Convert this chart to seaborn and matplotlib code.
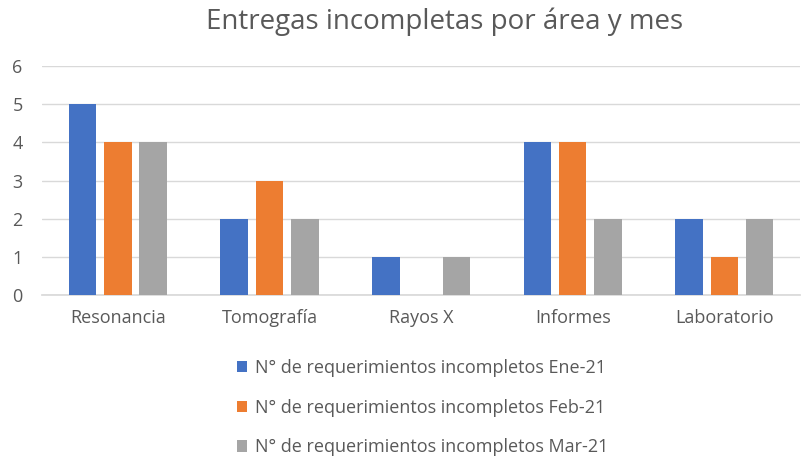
import pandas as pd
import matplotlib.pyplot as plt
import seaborn as sns

# Data
areas = ['Resonancia', 'Tomografía', 'Rayos X', 'Informes', 'Laboratorio']
series = ['N° de requerimientos incompletos Ene-21',
          'N° de requerimientos incompletos Feb-21',
          'N° de requerimientos incompletos Mar-21']
ene = [5, 2, 1, 4, 2]
feb = [4, 3, 0, 4, 1]
mar = [4, 2, 1, 2, 2]
palette = ['#4472C4', '#ED7D31', '#A5A5A5']

df = pd.DataFrame({
    'area': areas * 3,
    'serie': [series[0]] * 5 + [series[1]] * 5 + [series[2]] * 5,
    'valor': ene + feb + mar,
})

sns.set_theme(style='white')
plt.rcParams['font.family'] = ['Open Sans', 'DejaVu Sans']
txt = '#595959'

fig = plt.figure(figsize=(8.09, 4.57), dpi=100)
ax = fig.add_axes([0.052, 0.354, 0.937, 0.502])

sns.barplot(data=df, x='area', y='valor', hue='serie', hue_order=series,
            palette=palette, width=0.70, gap=0.22, saturation=1,
            linewidth=0, ax=ax, zorder=3)

ax.set_ylim(0, 6)
ax.set_yticks(range(0, 7))
ax.yaxis.grid(True, color='#D9D9D9', linewidth=1, zorder=0)
ax.set_axisbelow(True)
for s in ['top', 'right', 'left']:
    ax.spines[s].set_visible(False)
ax.spines['bottom'].set_color('#D9D9D9')
ax.set_xlabel('')
ax.set_ylabel('')
ax.tick_params(axis='both', length=0, labelsize=13, colors=txt)
ax.tick_params(axis='x', pad=10)
ax.tick_params(axis='y', pad=14)

fig.text(0.549, 0.953, 'Entregas incompletas por área y mes', ha='center',
         va='center', fontsize=20, color=txt)

ax.get_legend().remove()
handles, labels = ax.get_legend_handles_labels()
fig.legend(handles, labels, loc='center', bbox_to_anchor=(0.522, 0.108),
           ncol=1, frameon=False, fontsize=13, labelcolor=txt,
           handlelength=0.6, handleheight=0.6, handletextpad=0.4,
           labelspacing=1.2)

fig.savefig('out.png', dpi=100)
